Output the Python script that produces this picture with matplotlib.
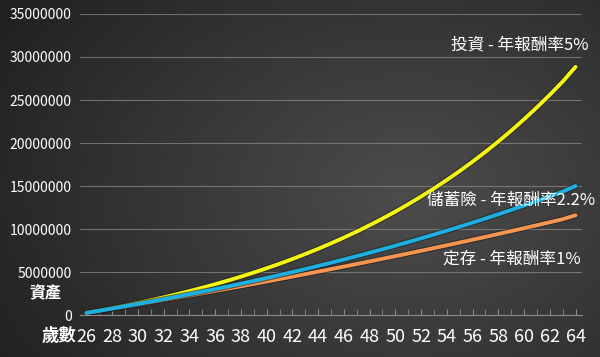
import numpy as np
import matplotlib
matplotlib.use("Agg")
import matplotlib.pyplot as plt
import matplotlib.patheffects as pe

plt.rcParams['font.family'] = ['Noto Sans CJK TC', 'DejaVu Sans']

ages = list(range(26, 65))
invest_5 = [252000, 516600, 794430, 1086152, 1392459, 1714082, 2051786, 2406375, 2778694, 3167629,
            3578110, 4009116, 4461671, 4936857, 5435797, 5959690, 6509771, 7087360, 7693828, 8330622,
            8999254, 9701315, 10438481, 11212504, 12025229, 12878592, 13774618, 14715450, 15703325, 16740589,
            17829717, 18973303, 20174073, 21434874, 22758716, 24148753, 25608291, 27140804, 28854985]
insurance_22 = [245280, 495949, 752147, 1013974, 1281564, 1555044, 1834541, 2120181, 2412107, 2710459,
                3015366, 3326989, 3645463, 3970935, 4303578, 4643537, 4990974, 5346048, 5708939, 6079814,
                6458848, 6846220, 7242105, 7646712, 8060215, 8482821, 8914724, 9356123, 9807239, 10268280,
                10739466, 11221017, 11713158, 12216129, 12730154, 13255501, 13792406, 14341126, 15001911]
deposit_1 = [242400, 487224, 734496, 984241, 1236482, 1491245, 1748552, 2008454, 2270924, 2536037,
             2803792, 3074238, 3347374, 3623250, 3901889, 4183315, 4467529, 4754603, 5044562, 5337406,
             5633182, 5931916, 6233631, 6538376, 6846152, 7155005, 7468986, 7786094, 8106377, 8429860,
             8756567, 9086570, 9419846, 9756465, 10098457, 10441840, 10788636, 11138935, 11602742]
xtick_labels = [str(a) for a in range(26, 65, 2)]
ytick_values = list(range(0, 35000001, 5000000))
label_invest = "投資 - 年報酬率5%"
label_ins = "儲蓄險 - 年報酬率2.2%"
label_dep = "定存 - 年報酬率1%"

fig = plt.figure(figsize=(6.0, 3.57), dpi=100)

# background gradient
bg = fig.add_axes([0, 0, 1, 1])
yy, xx = np.mgrid[0:1:200j, 0:1:340j]
d = np.sqrt(((xx - 0.68) / 0.75) ** 2 + ((yy - 0.45) / 0.9) ** 2)
v = np.clip(0.30 - 0.16 * d, 0.13, 0.30)
img = np.dstack([v, v, v])
bg.imshow(img, aspect='auto', extent=[0, 1, 0, 1], origin='lower')
bg.axis('off')

ax = fig.add_axes([0.1333, 0.1176, 0.97 - 0.1333, 0.9608 - 0.1176])
ax.patch.set_alpha(0)
for s in ax.spines.values():
    s.set_visible(False)
ax.spines['bottom'].set_visible(True)
ax.spines['bottom'].set_color('#8a8a8a')
ax.spines['bottom'].set_linewidth(0.8)

ax.set_xlim(25.5, 64.5)
ax.set_ylim(0, 35000000)
ax.set_yticks(ytick_values)
ax.set_yticklabels([str(v) for v in ytick_values], color='white', fontsize=10)
ax.grid(axis='y', color='#8c8c8c', linewidth=0.8, alpha=0.7)
ax.set_axisbelow(True)
ax.tick_params(axis='y', length=0, pad=6)

ax.set_xticks(range(26, 65, 2))
ax.set_xticklabels(xtick_labels, color='white', fontsize=13)
ax.set_xticks(ages, minor=True)
ax.tick_params(axis='x', which='both', direction='in', length=4, color='#8a8a8a', pad=9)

shadow = [pe.withStroke(linewidth=4.2, foreground='#1a1a1a', alpha=0.6)]
ax.plot(ages, invest_5, color='#F5F514', lw=2.8, solid_capstyle='round', path_effects=shadow, zorder=4)
ax.plot(ages, deposit_1, color='#F59550', lw=2.8, solid_capstyle='round', path_effects=shadow, zorder=3)
ax.plot(ages, insurance_22, color='#1EAEE0', lw=2.8, solid_capstyle='round', path_effects=shadow, zorder=5)

ax.text(65.0, 31400000, label_invest, color='white', fontsize=12, ha='right', va='center', zorder=6)
ax.text(65.5, 13300000, label_ins, color='white', fontsize=12, ha='right', va='center', zorder=6)
ax.text(64.4, 6500000, label_dep, color='white', fontsize=12, ha='right', va='center', zorder=6)

fig.text(45 / 600, 1 - 293 / 357, "資產", color='white', fontsize=11.5, fontweight='bold', ha='center', va='center')
fig.text(59 / 600, 1 - 336 / 357, "歲數", color='white', fontsize=12.5, fontweight='bold', ha='center', va='center')

fig.savefig('out.png', dpi=100)
